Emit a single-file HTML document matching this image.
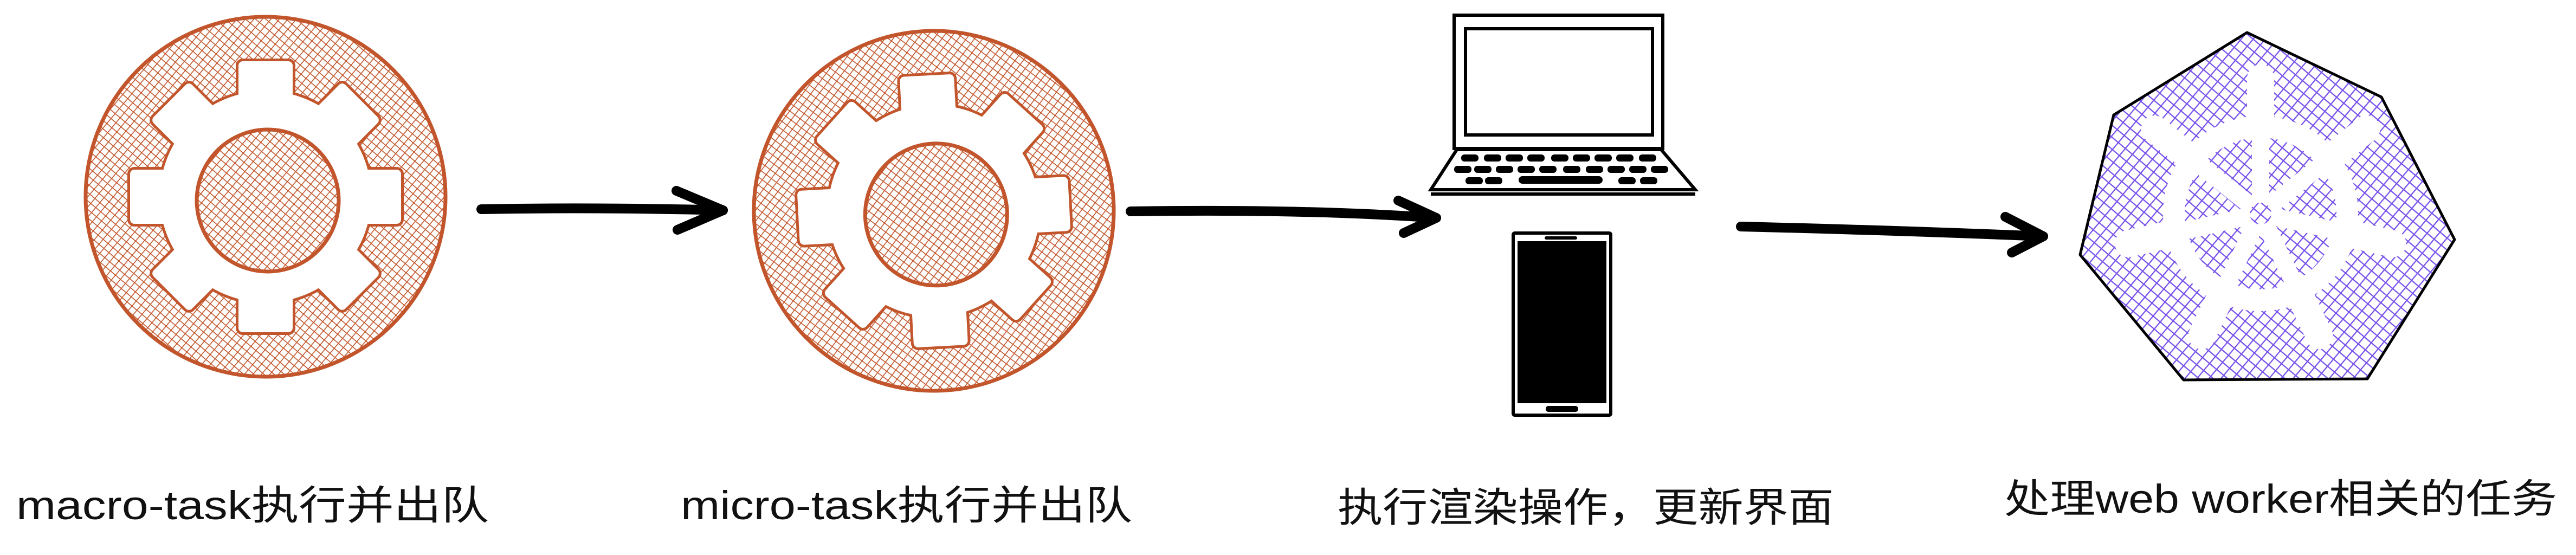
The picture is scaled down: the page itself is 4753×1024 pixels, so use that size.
<!DOCTYPE html>
<html><head><meta charset="utf-8"><style>
html,body{margin:0;padding:0;background:#fff;}
svg{display:block}
.t{font-family:"Liberation Sans","Noto Sans CJK SC",sans-serif;font-size:74px;fill:#111;}
</style></head><body>
<svg width="4753" height="1024" viewBox="0 0 4753 1024" xmlns="http://www.w3.org/2000/svg">
<defs>
<pattern id="ho" width="12" height="12" patternUnits="userSpaceOnUse" patternTransform="rotate(40)">
<rect width="12" height="12" fill="#fff"/>
<line x1="0" y1="0" x2="0" y2="12" stroke="#c2552b" stroke-width="3.2"/>
<line x1="0" y1="0" x2="12" y2="0" stroke="#c2552b" stroke-width="3.2"/>
</pattern>
<pattern id="hp" width="17" height="17" patternUnits="userSpaceOnUse" patternTransform="rotate(40)">
<rect width="17" height="17" fill="#fff"/>
<line x1="0" y1="0" x2="0" y2="17" stroke="#7650ec" stroke-width="4.5"/>
<line x1="0" y1="0" x2="17" y2="0" stroke="#7650ec" stroke-width="4.5"/>
</pattern>
<g id="gear">
<circle r="332" fill="url(#ho)" stroke="#c2552b" stroke-width="7"/>
<g stroke="#c2552b" stroke-width="10" fill="#fff">
<circle r="195"/>
<g id="teeth">
<rect x="-50" y="-250" width="100" height="90" rx="8"/>
<rect x="-50" y="-250" width="100" height="90" rx="8" transform="rotate(45)"/>
<rect x="-50" y="-250" width="100" height="90" rx="8" transform="rotate(90)"/>
<rect x="-50" y="-250" width="100" height="90" rx="8" transform="rotate(135)"/>
<rect x="-50" y="-250" width="100" height="90" rx="8" transform="rotate(180)"/>
<rect x="-50" y="-250" width="100" height="90" rx="8" transform="rotate(225)"/>
<rect x="-50" y="-250" width="100" height="90" rx="8" transform="rotate(270)"/>
<rect x="-50" y="-250" width="100" height="90" rx="8" transform="rotate(315)"/>
</g>
</g>
<g fill="#fff" stroke="none">
<circle r="195"/>
<use href="#teeth"/>
</g>
<circle cx="4" cy="7" r="131" fill="url(#ho)" stroke="#c2552b" stroke-width="7"/>
</g>
</defs>

<use href="#gear" transform="translate(490,363)"/>
<use href="#gear" transform="translate(1723,389) rotate(-3)"/>

<!-- arrows -->
<g stroke="#000" stroke-width="18" stroke-linecap="round" stroke-linejoin="round" fill="none">
<path d="M888 386 Q1100 382 1334 388"/>
<path d="M1248 352 L1334 388 L1250 424"/>
<path d="M2086 390 Q2400 385 2650 402"/>
<path d="M2580 370 L2650 402 L2590 430"/>
<path d="M3212 418 Q3500 425 3770 436"/>
<path d="M3700 400 L3770 436 L3712 466"/>
</g>

<!-- laptop -->
<g stroke="#000" stroke-width="6" fill="none">
<rect x="2683" y="28" width="385" height="246"/>
<rect x="2704" y="53" width="345" height="196"/>
<path d="M2688 276 L2640 350 L3128 350 L3065 276 Z"/>
<line x1="2640" y1="358" x2="3128" y2="358"/>
</g>
<g fill="#000">
<rect x="2696" y="285" width="32" height="13" rx="6"/><rect x="2738" y="285" width="32" height="13" rx="6"/>
<rect x="2778" y="285" width="32" height="13" rx="6"/><rect x="2818" y="285" width="32" height="13" rx="6"/>
<rect x="2862" y="285" width="32" height="13" rx="6"/><rect x="2902" y="285" width="32" height="13" rx="6"/>
<rect x="2942" y="285" width="32" height="13" rx="6"/><rect x="2982" y="285" width="32" height="13" rx="6"/>
<rect x="3024" y="285" width="32" height="13" rx="6"/>
<rect x="2683" y="306" width="32" height="13" rx="6"/><rect x="2720" y="306" width="32" height="13" rx="6"/>
<rect x="2760" y="306" width="32" height="13" rx="6"/><rect x="2800" y="306" width="32" height="13" rx="6"/>
<rect x="2840" y="306" width="32" height="13" rx="6"/><rect x="2884" y="306" width="32" height="13" rx="6"/>
<rect x="2926" y="306" width="32" height="13" rx="6"/><rect x="2966" y="306" width="32" height="13" rx="6"/>
<rect x="3006" y="306" width="32" height="13" rx="6"/><rect x="3046" y="306" width="32" height="13" rx="6"/>
<rect x="2704" y="327" width="32" height="13" rx="6"/><rect x="2740" y="327" width="32" height="13" rx="6"/>
<rect x="2802" y="325" width="155" height="14" rx="7"/>
<rect x="2986" y="327" width="32" height="13" rx="6"/><rect x="3026" y="327" width="32" height="13" rx="6"/>
</g>

<!-- phone -->
<rect x="2792" y="430" width="180" height="336" rx="3" fill="#fff" stroke="#000" stroke-width="6"/>
<rect x="2800" y="445" width="164" height="299" fill="#000"/>
<rect x="2850" y="436" width="60" height="6" rx="3" fill="#000"/>
<rect x="2852" y="749" width="60" height="11" rx="5" fill="#000"/>

<!-- heptagon -->
<polygon points="4146,60 4394,179 4529,442 4368,699 4029,701 3838,470 3900,212" fill="url(#hp)" stroke="#000" stroke-width="5" stroke-linejoin="round"/>
<g transform="translate(4171,394)">
<g stroke="#fff" stroke-linecap="round">
<g id="spk">
<line x1="0" y1="0" x2="0" y2="-200" stroke-width="32"/>
<line x1="0" y1="-175" x2="0" y2="-250" stroke-width="50"/>
</g>
<use href="#spk" transform="rotate(51.43)"/>
<use href="#spk" transform="rotate(102.86)"/>
<use href="#spk" transform="rotate(154.29)"/>
<use href="#spk" transform="rotate(205.71)"/>
<use href="#spk" transform="rotate(257.14)"/>
<use href="#spk" transform="rotate(308.57)"/>
<circle r="160" fill="none" stroke-width="40"/>
</g>
<circle r="20" fill="url(#hp)"/>
</g>

<!-- labels -->
<text class="t" x="30" y="958" textLength="872" lengthAdjust="spacingAndGlyphs">macro-task执行并出队</text>
<text class="t" x="1256" y="958" textLength="833" lengthAdjust="spacingAndGlyphs">micro-task执行并出队</text>
<text class="t" x="2468" y="962" textLength="915" lengthAdjust="spacingAndGlyphs">执行渲染操作，更新界面</text>
<text class="t" x="3698" y="946" textLength="1020" lengthAdjust="spacingAndGlyphs">处理web worker相关的任务</text>
</svg>
</body></html>
